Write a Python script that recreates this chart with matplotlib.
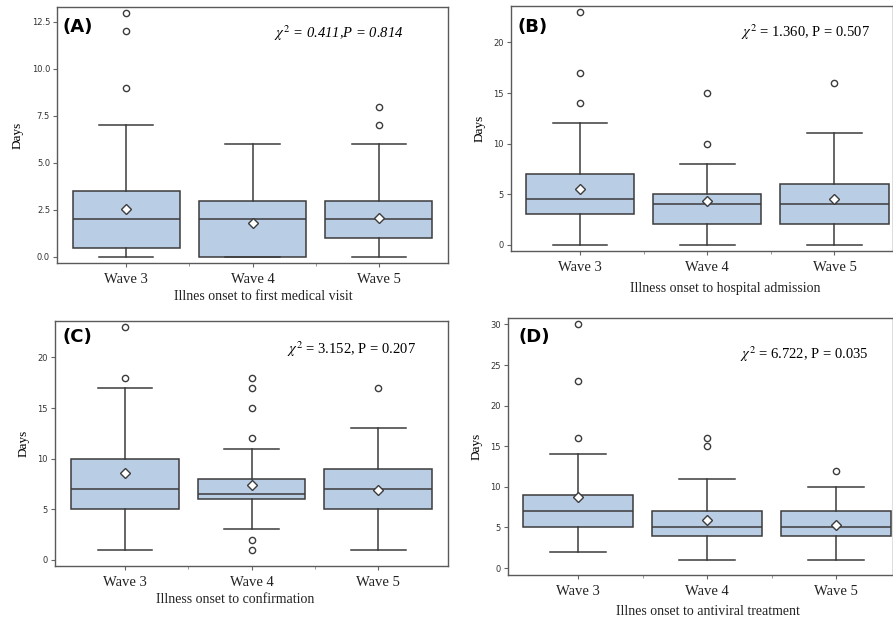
import numpy as np
import matplotlib.pyplot as plt
# four box plots of delays (days) for three waves, drawn from summary values

waves = ["Wave 3", "Wave 4", "Wave 5"]

# (A) onset to first medical visit
a_low = [0, 0, 0]
a_q1 = [0.5, 0, 1]
a_med = [2, 2, 2]
a_q3 = [3.5, 3, 3]
a_high = [7, 6, 6]
a_mean = [2.55, 1.8, 2.1]
a_out = [[9, 12, 13], [], [7, 8]]

# (B) onset to hospital admission
b_low = [0, 0, 0]
b_q1 = [3, 2, 2]
b_med = [4.5, 4, 4]
b_q3 = [7, 5, 6]
b_high = [12, 8, 11]
b_mean = [5.5, 4.3, 4.5]
b_out = [[14, 17, 23], [10, 15], [16]]

# (C) onset to confirmation
c_low = [1, 3, 1]
c_q1 = [5, 6, 5]
c_med = [7, 6.5, 7]
c_q3 = [10, 8, 9]
c_high = [17, 11, 13]
c_mean = [8.6, 7.4, 6.85]
c_out = [[18, 23], [1, 2, 12, 15, 17, 18], [17]]

# (D) onset to antiviral treatment
d_low = [2, 1, 1]
d_q1 = [5, 4, 4]
d_med = [7, 5, 5]
d_q3 = [9, 7, 7]
d_high = [14, 11, 10]
d_mean = [8.7, 5.9, 5.3]
d_out = [[16, 23, 30], [15, 16], [12]]

plt.rcParams['mathtext.fontset'] = 'stix'
serif = 'Liberation Serif'
dark = '#3c3c3c'

fig = plt.figure(figsize=(8.93, 6.2), dpi=100)


def panel(rect, low, q1, med, q3, high, mean, out, ylim, yticks, yfmt,
          xlim, tag, tag_xy, chi, chi_xy, chi_italic, xlab, xlab_xy):
    ax = fig.add_axes(rect)
    stats = []
    for i in range(3):
        stats.append(dict(whislo=low[i], q1=q1[i], med=med[i], q3=q3[i],
                          whishi=high[i], mean=mean[i], fliers=out[i]))
    ax.bxp(stats, positions=[0, 1, 2], widths=0.85, capwidths=0.43,
           patch_artist=True, showmeans=True,
           boxprops=dict(facecolor='#b9cde5', edgecolor=dark, linewidth=1.1),
           medianprops=dict(color=dark, linewidth=1.1),
           whiskerprops=dict(color=dark, linewidth=1.1),
           capprops=dict(color=dark, linewidth=1.1),
           meanprops=dict(marker='D', markerfacecolor='white',
                          markeredgecolor=dark, markersize=5.5, markeredgewidth=1),
           flierprops=dict(marker='o', markerfacecolor='white',
                           markeredgecolor=dark, markersize=4.5, markeredgewidth=1))
    ax.set_xlim(xlim)
    ax.set_ylim(ylim)
    ax.set_yticks(yticks)
    ax.set_yticklabels([yfmt % v for v in yticks], fontsize=6, color='#333333')
    ax.set_xticks([0, 1, 2])
    ax.set_xticklabels(waves, fontsize=10.5, family=serif, color='#222222')
    ax.set_xticks([0.5, 1.5], minor=True)
    ax.tick_params(axis='x', which='major', length=3, pad=4, color='#666666')
    ax.tick_params(axis='x', which='minor', length=2, color='#888888')
    ax.tick_params(axis='y', length=3, pad=2, color='#666666')
    for s in ax.spines.values():
        s.set_color('#5a5a5a')
        s.set_linewidth(1.0)
    ax.set_ylabel("Days", fontsize=9.5, family=serif, labelpad=6)
    ax.text(tag_xy[0], tag_xy[1], tag, transform=ax.transAxes, fontsize=13,
            fontweight='bold', ha='left', va='center')
    ax.text(chi_xy[0], chi_xy[1], chi, transform=ax.transAxes, fontsize=10.5,
            family=serif, style='italic' if chi_italic else 'normal',
            ha='right', va='center')
    ax.text(xlab_xy[0], xlab_xy[1], xlab, transform=ax.transAxes, fontsize=10,
            family=serif, ha='center', va='center', color='#222222')
    return ax


panel([0.0638, 0.5758, 0.438, 0.413], a_low, a_q1, a_med, a_q3, a_high, a_mean, a_out,
      (-0.32, 13.3), [0, 2.5, 5, 7.5, 10, 12.5], "%.1f", (-0.55, 2.55),
      "(A)", (0.015, 0.92), r"$\chi^2$ = 0.411,P = 0.814", (0.885, 0.898), True,
      "Illnes onset to first medical visit", (0.527, -0.129))

panel([0.5722, 0.5952, 0.4278, 0.395], b_low, b_q1, b_med, b_q3, b_high, b_mean, b_out,
      (-0.62, 23.6), [0, 5, 10, 15, 20], "%d", (-0.543, 2.46),
      "(B)", (0.018, 0.914), r"$\chi^2$ = 1.360, P = 0.507", (0.94, 0.894), False,
      "Illness onset to hospital admission", (0.56, -0.155))

panel([0.0616, 0.0871, 0.440, 0.395], c_low, c_q1, c_med, c_q3, c_high, c_mean, c_out,
      (-0.62, 23.6), [0, 5, 10, 15, 20], "%d", (-0.553, 2.55),
      "(C)", (0.02, 0.935), r"$\chi^2$ = 3.152, P = 0.207", (0.918, 0.886), False,
      "Illness onset to confirmation", (0.458, -0.135))

panel([0.5689, 0.0726, 0.4311, 0.4145], d_low, d_q1, d_med, d_q3, d_high, d_mean, d_out,
      (-0.86, 30.8), [0, 5, 10, 15, 20, 25, 30], "%d", (-0.543, 2.44),
      "(D)", (0.026, 0.926), r"$\chi^2$ = 6.722, P = 0.035", (0.938, 0.86), False,
      "Illnes onset to antiviral treatment", (0.52, -0.144))

plt.savefig("out.png", dpi=100)
